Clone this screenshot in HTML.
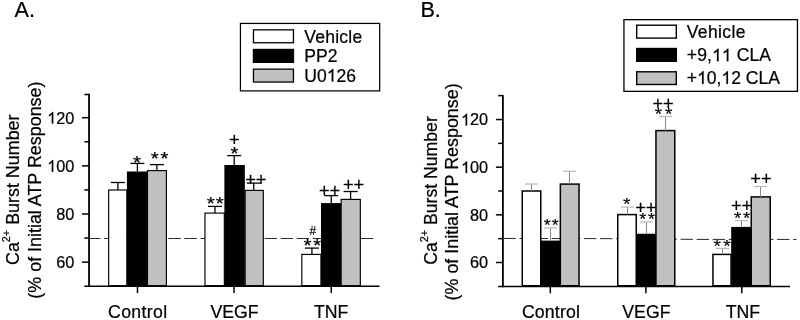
<!DOCTYPE html>
<html><head><meta charset="utf-8"><title>Figure</title>
<style>html,body{margin:0;padding:0;background:#fff;}svg{display:block;will-change:transform;}text{font-family:"Liberation Sans",sans-serif;fill:#000;stroke:#000;stroke-width:0.22px;}</style>
</head><body>
<svg width="800" height="320" viewBox="0 0 800 320">
<rect x="0" y="0" width="800" height="320" fill="#fff"/>
<!-- Panel A -->
<line x1="88.10" y1="238.50" x2="374.00" y2="238.50" stroke="#2a2a2a" stroke-width="1" stroke-dasharray="12.3 3.75"/>
<rect x="108.67" y="190.00" width="18.15" height="95.67" fill="#fff" stroke="#000" stroke-width="1.15"/>
<line x1="117.90" y1="190.00" x2="117.90" y2="182.50" stroke="#000" stroke-width="1.3" />
<line x1="110.90" y1="182.50" x2="124.90" y2="182.50" stroke="#000" stroke-width="1.3" />
<rect x="127.48" y="172.07" width="19.35" height="113.60" fill="#000" stroke="#000" stroke-width="1.15"/>
<line x1="137.40" y1="171.50" x2="137.40" y2="163.40" stroke="#000" stroke-width="1.3" />
<line x1="130.40" y1="163.40" x2="144.40" y2="163.40" stroke="#000" stroke-width="1.3" />
<text transform="translate(133.35,162.35) scale(1,0.9)" x="-0.41" y="6.97" font-size="20.5" stroke="#000" stroke-width="0.5" stroke-linejoin="round">*</text>
<rect x="147.47" y="170.60" width="18.95" height="115.07" fill="#c0c0c0" stroke="#000" stroke-width="1.15"/>
<line x1="156.90" y1="170.60" x2="156.90" y2="164.60" stroke="#000" stroke-width="1.3" />
<line x1="149.90" y1="164.60" x2="163.90" y2="164.60" stroke="#000" stroke-width="1.3" />
<text transform="translate(151.15,158.50) scale(1,0.9)" x="-0.41" y="6.97" font-size="20.5" stroke="#000" stroke-width="0.5" stroke-linejoin="round">*</text>
<text transform="translate(160.85,158.50) scale(1,0.9)" x="-0.41" y="6.97" font-size="20.5" stroke="#000" stroke-width="0.5" stroke-linejoin="round">*</text>
<rect x="204.97" y="213.10" width="19.35" height="72.57" fill="#fff" stroke="#000" stroke-width="1.15"/>
<line x1="215.00" y1="213.10" x2="215.00" y2="206.40" stroke="#000" stroke-width="1.3" />
<line x1="208.00" y1="206.40" x2="222.00" y2="206.40" stroke="#000" stroke-width="1.3" />
<text transform="translate(207.15,203.50) scale(1,0.9)" x="-0.41" y="6.97" font-size="20.5" stroke="#000" stroke-width="0.5" stroke-linejoin="round">*</text>
<text transform="translate(216.25,203.50) scale(1,0.9)" x="-0.41" y="6.97" font-size="20.5" stroke="#000" stroke-width="0.5" stroke-linejoin="round">*</text>
<rect x="224.97" y="165.57" width="19.25" height="120.10" fill="#000" stroke="#000" stroke-width="1.15"/>
<line x1="234.20" y1="165.00" x2="234.20" y2="155.60" stroke="#000" stroke-width="1.3" />
<line x1="227.20" y1="155.60" x2="241.20" y2="155.60" stroke="#000" stroke-width="1.3" />
<text transform="translate(230.85,153.25) scale(1,0.9)" x="-0.41" y="6.97" font-size="20.5" stroke="#000" stroke-width="0.5" stroke-linejoin="round">*</text>
<text x="229.09" y="145.65" font-size="18.3" text-anchor="start" stroke="#000" stroke-width="0.12">+</text>
<rect x="245.17" y="190.40" width="18.15" height="95.27" fill="#c0c0c0" stroke="#000" stroke-width="1.15"/>
<line x1="253.75" y1="190.40" x2="253.75" y2="183.10" stroke="#000" stroke-width="1.3" />
<line x1="246.75" y1="183.10" x2="260.75" y2="183.10" stroke="#000" stroke-width="1.3" />
<text x="245.34" y="185.90" font-size="18.3" text-anchor="start" stroke="#000" stroke-width="0.12">+</text>
<text x="255.69" y="185.90" font-size="18.3" text-anchor="start" stroke="#000" stroke-width="0.12">+</text>
<rect x="301.82" y="254.40" width="19.10" height="31.27" fill="#fff" stroke="#000" stroke-width="1.15"/>
<line x1="311.90" y1="254.40" x2="311.90" y2="248.10" stroke="#000" stroke-width="1.3" />
<line x1="304.90" y1="248.10" x2="318.90" y2="248.10" stroke="#000" stroke-width="1.3" />
<text transform="translate(309.40,234.75) scale(0.87,1)" x="0" y="0" font-size="13.6">#</text>
<text transform="translate(304.00,245.75) scale(1,0.9)" x="-0.41" y="6.97" font-size="20.5" stroke="#000" stroke-width="0.5" stroke-linejoin="round">*</text>
<text transform="translate(313.55,245.75) scale(1,0.9)" x="-0.41" y="6.97" font-size="20.5" stroke="#000" stroke-width="0.5" stroke-linejoin="round">*</text>
<rect x="321.57" y="203.67" width="18.85" height="82.00" fill="#000" stroke="#000" stroke-width="1.15"/>
<line x1="331.25" y1="203.10" x2="331.25" y2="195.60" stroke="#000" stroke-width="1.3" />
<line x1="324.25" y1="195.60" x2="338.25" y2="195.60" stroke="#000" stroke-width="1.3" />
<text x="319.08" y="196.90" font-size="18.3" text-anchor="start" stroke="#000" stroke-width="0.12">+</text>
<text x="329.48" y="196.90" font-size="18.3" text-anchor="start" stroke="#000" stroke-width="0.12">+</text>
<rect x="341.18" y="199.40" width="19.15" height="86.27" fill="#c0c0c0" stroke="#000" stroke-width="1.15"/>
<line x1="350.60" y1="199.40" x2="350.60" y2="191.50" stroke="#000" stroke-width="1.3" />
<line x1="343.60" y1="191.50" x2="357.60" y2="191.50" stroke="#000" stroke-width="1.3" />
<text x="343.08" y="191.15" font-size="18.3" text-anchor="start" stroke="#000" stroke-width="0.12">+</text>
<text x="353.58" y="191.15" font-size="18.3" text-anchor="start" stroke="#000" stroke-width="0.12">+</text>
<line x1="89.05" y1="93.75" x2="89.05" y2="287.00" stroke="#000" stroke-width="1.8" />
<line x1="84.35" y1="286.25" x2="379.50" y2="286.25" stroke="#000" stroke-width="1.5" />
<line x1="82.05" y1="117.71" x2="89.05" y2="117.71" stroke="#000" stroke-width="1.5" />
<path transform="translate(47.16,123.61) scale(0.00796,-0.00796)" d="M763 0L583 0L583 1147Q518 1085 412.5 1023Q307 961 223 930L223 1104Q374 1175 487 1276Q600 1377 647 1472L763 1472Z" fill="#000" stroke="#000" stroke-width="27.6"/>
<text x="56.22" y="123.61" font-size="16.3" letter-spacing="0.0" style="font-kerning:none;white-space:pre">20</text>
<line x1="82.05" y1="165.85" x2="89.05" y2="165.85" stroke="#000" stroke-width="1.5" />
<path transform="translate(47.16,171.75) scale(0.00796,-0.00796)" d="M763 0L583 0L583 1147Q518 1085 412.5 1023Q307 961 223 930L223 1104Q374 1175 487 1276Q600 1377 647 1472L763 1472Z" fill="#000" stroke="#000" stroke-width="27.6"/>
<text x="56.22" y="171.75" font-size="16.3" letter-spacing="0.0" style="font-kerning:none;white-space:pre">00</text>
<line x1="82.05" y1="213.99" x2="89.05" y2="213.99" stroke="#000" stroke-width="1.5" />
<text x="56.22" y="219.89" font-size="16.3" letter-spacing="0.0" style="font-kerning:none;white-space:pre">80</text>
<line x1="82.05" y1="262.13" x2="89.05" y2="262.13" stroke="#000" stroke-width="1.5" />
<text x="56.22" y="268.03" font-size="16.3" letter-spacing="0.0" style="font-kerning:none;white-space:pre">60</text>
<line x1="84.35" y1="141.78" x2="89.05" y2="141.78" stroke="#000" stroke-width="1.5" />
<line x1="84.35" y1="189.92" x2="89.05" y2="189.92" stroke="#000" stroke-width="1.5" />
<line x1="84.35" y1="238.06" x2="89.05" y2="238.06" stroke="#000" stroke-width="1.5" />
<line x1="84.35" y1="94.50" x2="89.05" y2="94.50" stroke="#000" stroke-width="1.5" />
<line x1="137.50" y1="286.25" x2="137.50" y2="293.05" stroke="#000" stroke-width="1.5" />
<text x="137.60" y="317.60" font-size="17.7" text-anchor="middle" textLength="59.0">Control</text>
<line x1="234.00" y1="286.25" x2="234.00" y2="293.05" stroke="#000" stroke-width="1.5" />
<text x="234.60" y="317.60" font-size="17.7" text-anchor="middle" >VEGF</text>
<line x1="331.25" y1="286.25" x2="331.25" y2="293.05" stroke="#000" stroke-width="1.5" />
<text x="331.25" y="317.60" font-size="17.7" text-anchor="middle" >TNF</text>
<text transform="translate(19.00,189.75) rotate(-90)" font-size="17.9" text-anchor="middle">Ca<tspan dy="-8.6" font-size="10.8">2+</tspan><tspan dy="8.6"> Burst Number</tspan></text>
<text transform="translate(40.80,190.10) rotate(-90)" font-size="17.9" text-anchor="middle">(% of Initial ATP Response)</text>
<rect x="240.43" y="23.43" width="139.25" height="67.45" fill="#fff" stroke="#000" stroke-width="1.25"/>
<rect x="253.45" y="29.85" width="40.00" height="12.90" fill="#fff" stroke="#000" stroke-width="1.3"/>
<text x="304.30" y="42.50" font-size="17.55" text-anchor="start" textLength="57.9">Vehicle</text>
<rect x="253.45" y="49.45" width="40.00" height="12.90" fill="#000" stroke="#000" stroke-width="1.3"/>
<text x="304.30" y="61.90" font-size="17.55" text-anchor="start" >PP2</text>
<rect x="253.45" y="69.15" width="40.00" height="12.90" fill="#c0c0c0" stroke="#000" stroke-width="1.3"/>
<text x="304.30" y="81.50" font-size="17.55" letter-spacing="0" style="font-kerning:none;white-space:pre">U0</text>
<path transform="translate(326.73,81.50) scale(0.00857,-0.00857)" d="M763 0L583 0L583 1147Q518 1085 412.5 1023Q307 961 223 930L223 1104Q374 1175 487 1276Q600 1377 647 1472L763 1472Z" fill="#000" stroke="#000" stroke-width="25.7"/>
<text x="336.49" y="81.50" font-size="17.55" letter-spacing="0" style="font-kerning:none;white-space:pre">26</text>
<text x="14.50" y="17.00" font-size="21.6" text-anchor="start" >A.</text>
<!-- Panel B -->
<polyline points="503.40,238.45 600.00,238.60 700.00,239.40 796.50,239.45" fill="none" stroke="#2a2a2a" stroke-width="1" stroke-dasharray="12.4 3.7"/>
<rect x="522.25" y="191.00" width="18.50" height="94.75" fill="#fff" stroke="#000" stroke-width="1.5"/>
<line x1="531.50" y1="191.00" x2="531.50" y2="184.00" stroke="#888" stroke-width="1.0" />
<line x1="525.00" y1="184.00" x2="538.00" y2="184.00" stroke="#b8b8b8" stroke-width="1.2" />
<rect x="541.35" y="241.35" width="18.50" height="44.40" fill="#000" stroke="#000" stroke-width="1.5"/>
<line x1="550.50" y1="240.60" x2="550.50" y2="227.90" stroke="#888" stroke-width="1.0" />
<line x1="544.00" y1="227.90" x2="557.00" y2="227.90" stroke="#b8b8b8" stroke-width="1.2" />
<text transform="translate(544.00,225.00) scale(1,0.9)" x="-0.36" y="6.12" font-size="18" stroke="#000" stroke-width="0.5" stroke-linejoin="round">*</text>
<text transform="translate(552.05,225.00) scale(1,0.9)" x="-0.36" y="6.12" font-size="18" stroke="#000" stroke-width="0.5" stroke-linejoin="round">*</text>
<rect x="560.35" y="184.10" width="18.70" height="101.65" fill="#c0c0c0" stroke="#000" stroke-width="1.5"/>
<line x1="569.50" y1="184.10" x2="569.50" y2="171.25" stroke="#888" stroke-width="1.0" />
<line x1="563.00" y1="171.25" x2="576.00" y2="171.25" stroke="#b8b8b8" stroke-width="1.2" />
<rect x="617.75" y="214.60" width="18.50" height="71.15" fill="#fff" stroke="#000" stroke-width="1.5"/>
<line x1="627.50" y1="214.60" x2="627.50" y2="207.10" stroke="#888" stroke-width="1.0" />
<line x1="621.00" y1="207.10" x2="634.00" y2="207.10" stroke="#b8b8b8" stroke-width="1.2" />
<text transform="translate(623.35,203.95) scale(1,0.9)" x="-0.38" y="6.46" font-size="19" stroke="#000" stroke-width="0.5" stroke-linejoin="round">*</text>
<rect x="636.95" y="234.50" width="18.30" height="51.25" fill="#000" stroke="#000" stroke-width="1.5"/>
<line x1="646.50" y1="233.75" x2="646.50" y2="221.90" stroke="#888" stroke-width="1.0" />
<line x1="640.00" y1="221.90" x2="653.00" y2="221.90" stroke="#b8b8b8" stroke-width="1.2" />
<text x="635.34" y="214.15" font-size="18.3" text-anchor="start" stroke="#000" stroke-width="0.12">+</text>
<text x="645.79" y="214.15" font-size="18.3" text-anchor="start" stroke="#000" stroke-width="0.12">+</text>
<text transform="translate(639.65,219.15) scale(1,0.9)" x="-0.36" y="6.12" font-size="18" stroke="#000" stroke-width="0.5" stroke-linejoin="round">*</text>
<text transform="translate(648.25,219.15) scale(1,0.9)" x="-0.36" y="6.12" font-size="18" stroke="#000" stroke-width="0.5" stroke-linejoin="round">*</text>
<rect x="655.95" y="130.60" width="18.80" height="155.15" fill="#c0c0c0" stroke="#000" stroke-width="1.5"/>
<line x1="665.50" y1="130.60" x2="665.50" y2="116.50" stroke="#888" stroke-width="1.0" />
<line x1="659.00" y1="116.50" x2="672.00" y2="116.50" stroke="#b8b8b8" stroke-width="1.2" />
<text x="652.49" y="110.35" font-size="18.3" text-anchor="start" stroke="#000" stroke-width="0.12">+</text>
<text x="662.99" y="110.35" font-size="18.3" text-anchor="start" stroke="#000" stroke-width="0.12">+</text>
<text transform="translate(655.25,114.15) scale(1,0.9)" x="-0.38" y="6.46" font-size="19" stroke="#000" stroke-width="0.5" stroke-linejoin="round">*</text>
<text transform="translate(665.45,114.15) scale(1,0.9)" x="-0.38" y="6.46" font-size="19" stroke="#000" stroke-width="0.5" stroke-linejoin="round">*</text>
<rect x="712.95" y="254.40" width="18.10" height="31.35" fill="#fff" stroke="#000" stroke-width="1.5"/>
<line x1="722.50" y1="254.40" x2="722.50" y2="248.40" stroke="#888" stroke-width="1.0" />
<line x1="716.00" y1="248.40" x2="729.00" y2="248.40" stroke="#b8b8b8" stroke-width="1.2" />
<text transform="translate(714.00,246.65) scale(1,0.9)" x="-0.38" y="6.46" font-size="19" stroke="#000" stroke-width="0.5" stroke-linejoin="round">*</text>
<text transform="translate(723.65,246.65) scale(1,0.9)" x="-0.38" y="6.46" font-size="19" stroke="#000" stroke-width="0.5" stroke-linejoin="round">*</text>
<rect x="731.95" y="227.65" width="18.30" height="58.10" fill="#000" stroke="#000" stroke-width="1.5"/>
<line x1="741.50" y1="226.90" x2="741.50" y2="220.60" stroke="#888" stroke-width="1.0" />
<line x1="735.00" y1="220.60" x2="748.00" y2="220.60" stroke="#b8b8b8" stroke-width="1.2" />
<text x="730.99" y="212.15" font-size="18.3" text-anchor="start" stroke="#000" stroke-width="0.12">+</text>
<text x="741.49" y="212.15" font-size="18.3" text-anchor="start" stroke="#000" stroke-width="0.12">+</text>
<text transform="translate(734.25,218.50) scale(1,0.9)" x="-0.37" y="6.29" font-size="18.5" stroke="#000" stroke-width="0.5" stroke-linejoin="round">*</text>
<text transform="translate(743.45,218.50) scale(1,0.9)" x="-0.37" y="6.29" font-size="18.5" stroke="#000" stroke-width="0.5" stroke-linejoin="round">*</text>
<rect x="751.25" y="196.90" width="19.00" height="88.85" fill="#c0c0c0" stroke="#000" stroke-width="1.5"/>
<line x1="760.50" y1="196.90" x2="760.50" y2="186.50" stroke="#888" stroke-width="1.0" />
<line x1="754.00" y1="186.50" x2="767.00" y2="186.50" stroke="#b8b8b8" stroke-width="1.2" />
<text x="750.34" y="184.90" font-size="18.3" text-anchor="start" stroke="#000" stroke-width="0.12">+</text>
<text x="760.88" y="184.90" font-size="18.3" text-anchor="start" stroke="#000" stroke-width="0.12">+</text>
<line x1="502.90" y1="94.90" x2="502.90" y2="287.25" stroke="#000" stroke-width="1.8" />
<line x1="498.20" y1="286.50" x2="790.00" y2="286.50" stroke="#000" stroke-width="1.5" />
<line x1="495.90" y1="119.56" x2="502.90" y2="119.56" stroke="#000" stroke-width="1.5" />
<path transform="translate(461.01,125.46) scale(0.00796,-0.00796)" d="M763 0L583 0L583 1147Q518 1085 412.5 1023Q307 961 223 930L223 1104Q374 1175 487 1276Q600 1377 647 1472L763 1472Z" fill="#000" stroke="#000" stroke-width="27.6"/>
<text x="470.07" y="125.46" font-size="16.3" letter-spacing="0.0" style="font-kerning:none;white-space:pre">20</text>
<line x1="495.90" y1="167.20" x2="502.90" y2="167.20" stroke="#000" stroke-width="1.5" />
<path transform="translate(461.01,173.10) scale(0.00796,-0.00796)" d="M763 0L583 0L583 1147Q518 1085 412.5 1023Q307 961 223 930L223 1104Q374 1175 487 1276Q600 1377 647 1472L763 1472Z" fill="#000" stroke="#000" stroke-width="27.6"/>
<text x="470.07" y="173.10" font-size="16.3" letter-spacing="0.0" style="font-kerning:none;white-space:pre">00</text>
<line x1="495.90" y1="214.84" x2="502.90" y2="214.84" stroke="#000" stroke-width="1.5" />
<text x="470.07" y="220.74" font-size="16.3" letter-spacing="0.0" style="font-kerning:none;white-space:pre">80</text>
<line x1="495.90" y1="262.48" x2="502.90" y2="262.48" stroke="#000" stroke-width="1.5" />
<text x="470.07" y="268.38" font-size="16.3" letter-spacing="0.0" style="font-kerning:none;white-space:pre">60</text>
<line x1="498.20" y1="143.38" x2="502.90" y2="143.38" stroke="#000" stroke-width="1.5" />
<line x1="498.20" y1="191.02" x2="502.90" y2="191.02" stroke="#000" stroke-width="1.5" />
<line x1="498.20" y1="238.66" x2="502.90" y2="238.66" stroke="#000" stroke-width="1.5" />
<line x1="498.20" y1="95.65" x2="502.90" y2="95.65" stroke="#000" stroke-width="1.5" />
<line x1="550.30" y1="286.50" x2="550.30" y2="293.30" stroke="#000" stroke-width="1.5" />
<text x="550.90" y="317.60" font-size="17.7" text-anchor="middle" textLength="58.0">Control</text>
<line x1="645.90" y1="286.50" x2="645.90" y2="293.30" stroke="#000" stroke-width="1.5" />
<text x="646.40" y="317.60" font-size="17.7" text-anchor="middle" >VEGF</text>
<line x1="741.80" y1="286.50" x2="741.80" y2="293.30" stroke="#000" stroke-width="1.5" />
<text x="742.90" y="317.60" font-size="17.7" text-anchor="middle" >TNF</text>
<text transform="translate(436.70,190.50) rotate(-90)" font-size="17.65" text-anchor="middle">Ca<tspan dy="-8.6" font-size="10.8">2+</tspan><tspan dy="8.6"> Burst Number</tspan></text>
<text transform="translate(457.60,191.90) rotate(-90)" font-size="17.9" text-anchor="middle">(% of Initial ATP Response)</text>
<rect x="623.95" y="19.65" width="173.50" height="71.70" fill="#fff" stroke="#000" stroke-width="1.3"/>
<rect x="636.70" y="25.20" width="39.60" height="12.90" fill="#fff" stroke="#000" stroke-width="1.4"/>
<text x="686.80" y="37.60" font-size="17.55" text-anchor="start" textLength="58.6">Vehicle</text>
<rect x="636.70" y="48.50" width="39.60" height="12.80" fill="#000" stroke="#000" stroke-width="1.4"/>
<text x="686.80" y="61.30" font-size="17.55" letter-spacing="0.1" style="font-kerning:none;white-space:pre">+9,</text>
<path transform="translate(711.99,61.30) scale(0.00857,-0.00857)" d="M763 0L583 0L583 1147Q518 1085 412.5 1023Q307 961 223 930L223 1104Q374 1175 487 1276Q600 1377 647 1472L763 1472Z" fill="#000" stroke="#000" stroke-width="25.7"/>
<path transform="translate(721.84,61.30) scale(0.00857,-0.00857)" d="M763 0L583 0L583 1147Q518 1085 412.5 1023Q307 961 223 930L223 1104Q374 1175 487 1276Q600 1377 647 1472L763 1472Z" fill="#000" stroke="#000" stroke-width="25.7"/>
<text x="731.70" y="61.30" font-size="17.55" letter-spacing="0.1" style="font-kerning:none;white-space:pre"> CLA</text>
<rect x="636.70" y="71.80" width="39.60" height="12.70" fill="#c0c0c0" stroke="#000" stroke-width="1.4"/>
<text x="686.80" y="83.90" font-size="17.55" letter-spacing="0" style="font-kerning:none;white-space:pre">+</text>
<path transform="translate(697.05,83.90) scale(0.00857,-0.00857)" d="M763 0L583 0L583 1147Q518 1085 412.5 1023Q307 961 223 930L223 1104Q374 1175 487 1276Q600 1377 647 1472L763 1472Z" fill="#000" stroke="#000" stroke-width="25.7"/>
<text x="706.81" y="83.90" font-size="17.55" letter-spacing="0" style="font-kerning:none;white-space:pre">0,</text>
<path transform="translate(721.44,83.90) scale(0.00857,-0.00857)" d="M763 0L583 0L583 1147Q518 1085 412.5 1023Q307 961 223 930L223 1104Q374 1175 487 1276Q600 1377 647 1472L763 1472Z" fill="#000" stroke="#000" stroke-width="25.7"/>
<text x="731.20" y="83.90" font-size="17.55" letter-spacing="0" style="font-kerning:none;white-space:pre">2 CLA</text>
<text x="420.40" y="17.00" font-size="21.6" text-anchor="start" >B.</text>
</svg></body></html>
